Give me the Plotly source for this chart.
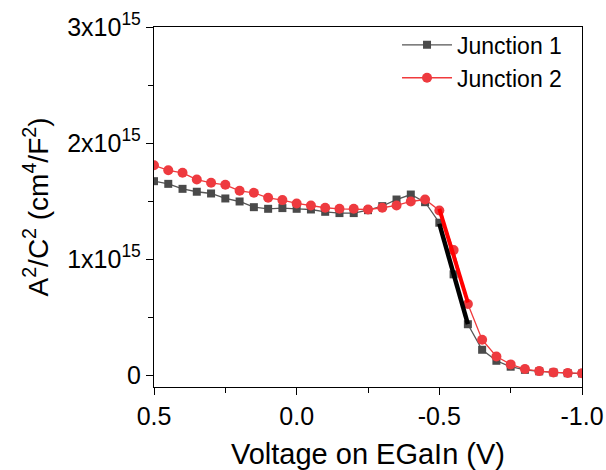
import plotly.graph_objects as go

voltage = [0.5, 0.45, 0.4, 0.35, 0.3, 0.25, 0.2, 0.15, 0.1, 0.05, 0.0,
           -0.05, -0.1, -0.15, -0.2, -0.25, -0.3, -0.35, -0.4, -0.45, -0.5,
           -0.55, -0.6, -0.65, -0.7, -0.75, -0.8, -0.85, -0.9, -0.95, -1.0]

junction1 = [1.671, 1.648, 1.605, 1.580, 1.565, 1.522, 1.496, 1.447, 1.433, 1.439, 1.433,
             1.427, 1.407, 1.396, 1.396, 1.421, 1.456, 1.513, 1.556, 1.490, 1.313,
             0.868, 0.438, 0.218, 0.123, 0.072, 0.045, 0.032, 0.022, 0.016, 0.013]
junction2 = [1.808, 1.765, 1.743, 1.685, 1.657, 1.640, 1.588, 1.571, 1.528, 1.508, 1.479,
             1.462, 1.442, 1.433, 1.433, 1.427, 1.442, 1.462, 1.496, 1.513, 1.419,
             1.077, 0.613, 0.304, 0.160, 0.092, 0.052, 0.034, 0.023, 0.017, 0.015]

fit_x = [-0.5, -0.6]
fit1 = [1.304, 0.438]
fit2 = [1.433, 0.625]

scale = 1e15
ytick_vals = [0, 1, 2, 3]
ytick_text = ["0", "1x10<sup>15</sup>", "2x10<sup>15</sup>", "3x10<sup>15</sup>"]
xtick_vals = [0.5, 0.0, -0.5, -1.0]
xtick_text = ["0.5", "0.0", "-0.5", "-1.0"]

fig = go.Figure()
fig.add_trace(go.Scatter(x=voltage, y=[v * scale for v in junction1], mode="lines+markers",
                         name="Junction 1",
                         line=dict(color="#555555", width=1.3),
                         marker=dict(symbol="square", size=8, color="#4a4a4a")))
fig.add_trace(go.Scatter(x=voltage, y=[v * scale for v in junction2], mode="lines+markers",
                         name="Junction 2",
                         line=dict(color="#f03a3c", width=1.3),
                         marker=dict(symbol="circle", size=10, color="#ee3a3f")))
fig.add_trace(go.Scatter(x=fit_x, y=[v * scale for v in fit1], mode="lines",
                         line=dict(color="#000000", width=4.5), showlegend=False))
fig.add_trace(go.Scatter(x=fit_x, y=[v * scale for v in fit2], mode="lines",
                         line=dict(color="#ff0000", width=4), showlegend=False))

FONT = "Arial, Liberation Sans, sans-serif"
axis_common = dict(showline=True, linecolor="black", linewidth=1.3, mirror=True,
                   showgrid=False, zeroline=False, ticks="outside", ticklen=7,
                   tickwidth=1.3, tickcolor="black", automargin=False,
                   tickfont=dict(family=FONT, size=25, color="black"))

fig.update_layout(
    width=606, height=470,
    margin=dict(l=154, r=24, t=27, b=83),
    plot_bgcolor="white", paper_bgcolor="white",
    font=dict(family=FONT, color="black"),
    xaxis=dict(range=[0.5, -1.0], tickvals=xtick_vals, ticktext=xtick_text,
               minor=dict(tickvals=[0.25, -0.25, -0.75], ticks="outside", ticklen=5,
                          tickcolor="black", tickwidth=1.3),
               title=dict(text="Voltage on EGaIn (V)", font=dict(size=29), standoff=14),
               **axis_common),
    yaxis=dict(range=[-0.103 * scale, 3 * scale], tickvals=[v * scale for v in ytick_vals],
               ticktext=ytick_text,
               minor=dict(tickvals=[0.5 * scale, 1.5 * scale, 2.5 * scale], ticks="outside",
                          ticklen=5, tickcolor="black", tickwidth=1.3),
               title=dict(text="A<sup>2</sup>/C<sup>2</sup> (cm<sup>4</sup>/F<sup>2</sup>)",
                          font=dict(size=28), standoff=10),
               **axis_common),
    legend=dict(x=0.965, y=1.01, xanchor="right", yanchor="top",
                font=dict(size=23), bgcolor="rgba(0,0,0,0)", itemwidth=50,
                tracegroupgap=0),
)

fig.write_html("out.html")
